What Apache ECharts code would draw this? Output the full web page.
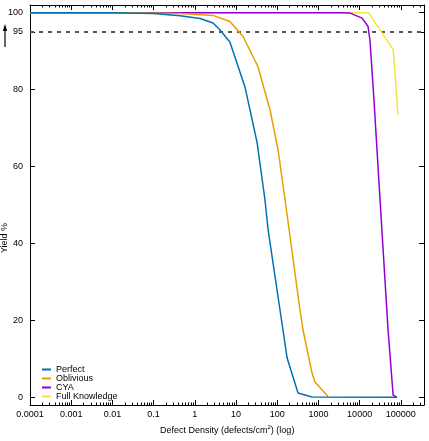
<!DOCTYPE html>
<html><head><meta charset="utf-8">
<script src="https://cdn.jsdelivr.net/npm/echarts@6/dist/echarts.min.js"></script>
<style>html,body{margin:0;padding:0;background:#fff}#c{width:429px;height:441px}</style>
</head><body><div id="c"></div>
<script>
const seriesNames = ['Perfect', 'Oblivious', 'CYA', 'Full Knowledge'];
const seriesColors = ['#0072b2', '#e69f00', '#9400d3', '#f0e442'];

const perfectX = [0.0001, 0.01, 0.1, 0.44, 1.34, 2.76, 4.1, 7.1, 16.5, 32.5, 50.5, 60, 138, 174, 320, 700, 81000];
const perfectY = [100, 100, 99.8, 99.2, 98.5, 97.3, 95.5, 92.4, 80.7, 66.2, 51.3, 43.6, 17.5, 10.2, 1.1, 0.1, 0];

const obliviousX = [0.0001, 0.03, 0.44, 2.76, 7.1, 14.8, 34, 67, 105, 155, 195, 357, 423, 700, 826, 1710];
const obliviousY = [100, 100, 99.8, 99.3, 97.7, 93.8, 86, 74.7, 64.3, 51.3, 43.5, 22.7, 17.5, 6.3, 4, 0.2];

const cyaX = [0.0001, 3000, 5900, 11500, 16000, 17800, 22300, 31300, 49000, 65000, 81000];
const cyaY = [100, 100, 99.9, 98.6, 96.4, 92.9, 77.3, 51.3, 17.5, 0.6, 0];

const fullX = [0.0001, 16384, 65536, 85000];
const fullY = [100, 100, 90.4, 73.5];

const xTickLabels = ['0.0001', '0.001', '0.01', '0.1', '1', '10', '100', '1000', '10000', '100000'];
const yTickValues = [0, 20, 40, 60, 80, 95, 100];
const thresholdY = 95;

const FONT = 'Liberation Sans';
const zip = (xs, ys) => xs.map((x, i) => [x, ys[i]]);
const seriesData = [zip(perfectX, perfectY), zip(obliviousX, obliviousY), zip(cyaX, cyaY), zip(fullX, fullY)];

const chart = echarts.init(document.getElementById('c'), null, {renderer: 'canvas'});

function xAxisCfg(pos, showLabel) {
  return {
    type: 'log', logBase: 10, min: 0.0001, max: 365000, position: pos,
    axisLine: {show: true, onZero: false, lineStyle: {color: '#000', width: 1}},
    axisTick: {show: true, inside: true, length: 5, lineStyle: {color: '#000', width: 1}},
    minorTick: {show: true, splitNumber: 9, length: 2.5, lineStyle: {color: '#000', width: 1}},
    splitLine: {show: false}, minorSplitLine: {show: false},
    axisLabel: {
      show: showLabel, showMaxLabel: false, color: '#000', fontSize: 9, fontFamily: FONT, margin: 5,
      formatter: v => { const k = Math.round(Math.log10(v)) + 4; return xTickLabels[k] !== undefined ? xTickLabels[k] : ''; }
    }
  };
}
function yAxisCfg(pos, showLabel) {
  return {
    type: 'value', min: -2, max: 102, position: pos,
    axisLine: {show: true, onZero: false, lineStyle: {color: '#000', width: 1}},
    axisTick: {show: true, inside: true, length: 5, customValues: yTickValues, lineStyle: {color: '#000', width: 1}},
    splitLine: {show: false},
    axisLabel: {show: showLabel, customValues: yTickValues, color: '#000', fontSize: 9, fontFamily: FONT, margin: 7}
  };
}

const order = [3, 2, 1, 0];
const series = order.map(i => ({
  name: seriesNames[i], type: 'line', data: seriesData[i], showSymbol: false, symbol: 'none',
  lineStyle: {color: seriesColors[i], width: 1.5}, itemStyle: {color: seriesColors[i]},
  z: 10 - i, animation: false
}));
series[0].markLine = {
  silent: true, symbol: 'none', label: {show: false},
  lineStyle: {color: '#555', width: 2, type: [4, 5]},
  data: [{yAxis: thresholdY}]
};

chart.setOption({
  animation: false,
  backgroundColor: '#fff',
  grid: {left: 30, right: 5, top: 5, bottom: 36},
  xAxis: [xAxisCfg('bottom', true), xAxisCfg('top', false)],
  yAxis: [yAxisCfg('left', true), yAxisCfg('right', false)],
  legend: {
    data: seriesNames, orient: 'vertical', left: 42, top: 365, padding: 0, itemGap: 0,
    icon: 'rect', itemWidth: 9, itemHeight: 2,
    textStyle: {fontSize: 9, fontFamily: FONT, color: '#000', lineHeight: 9}
  },
  series: series,
  graphic: [
    {type: 'text', left: 160, top: 424, style: {
      text: '{a|Defect Density (defects/cm}{s|2}{a|) (log)}',
      rich: {a: {fontSize: 9, fontFamily: FONT, fill: '#000', verticalAlign: 'bottom'},
             s: {fontSize: 6, fontFamily: FONT, fill: '#000', verticalAlign: 'top', padding: [0, 0, 5, 0]}}
    }},
    {type: 'text', x: 5, y: 238, rotation: Math.PI / 2, style: {
      text: 'Yield %', fontSize: 9, fontFamily: FONT, fill: '#000', align: 'center', verticalAlign: 'middle'
    }},
    {type: 'line', shape: {x1: 5, y1: 47, x2: 5, y2: 30}, style: {stroke: '#000', lineWidth: 1.2}},
    {type: 'polygon', shape: {points: [[5, 24], [2.8, 31], [7.2, 31]]}, style: {fill: '#000'}}
  ]
});
</script></body></html>
